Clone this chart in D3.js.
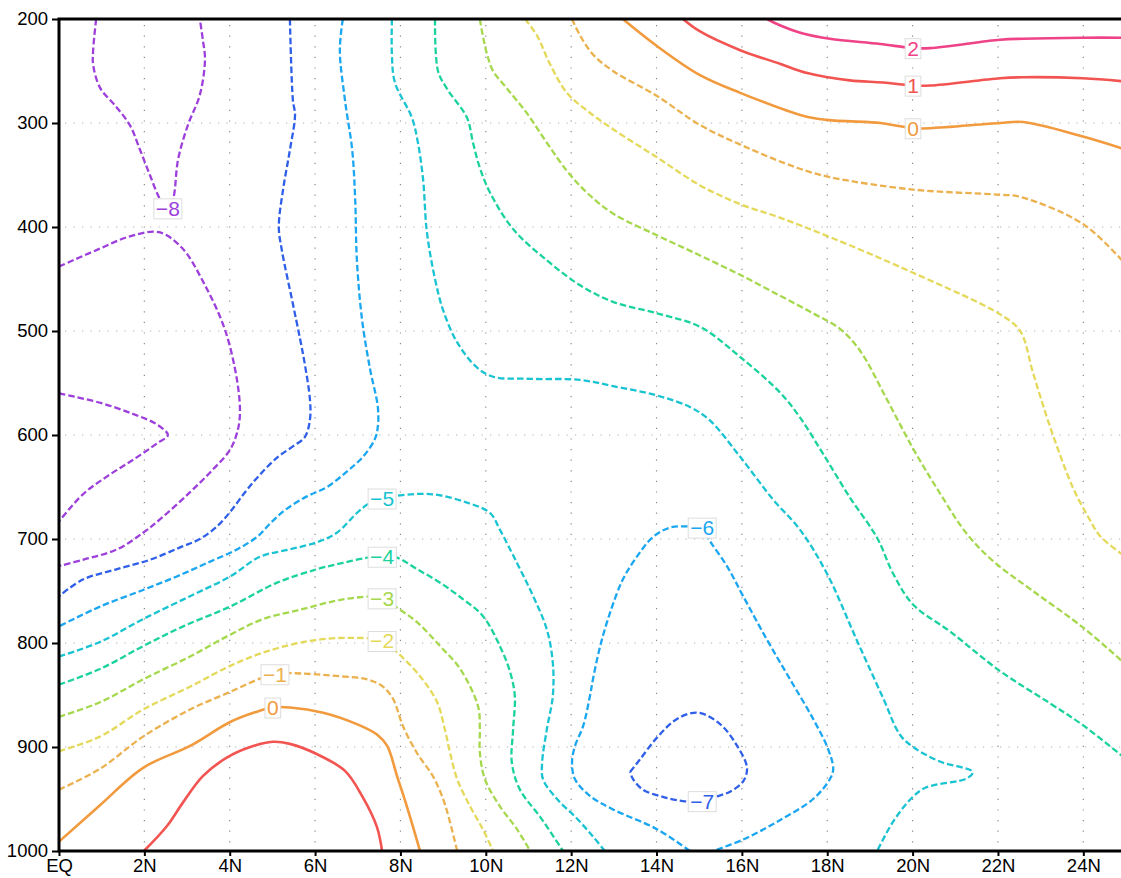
<!DOCTYPE html>
<html>
<head>
<meta charset="utf-8">
<title>Contour cross section</title>
<script src="https://d3js.org/d3.v7.min.js"></script>
<style>
  body { margin: 0; background: #fff; }
  text { font-family: "Liberation Sans", "DejaVu Sans", sans-serif; }
</style>
</head>
<body>
<div id="chart"></div>
<script>
// axis ticks
const latTicks = [0, 2, 4, 6, 8, 10, 12, 14, 16, 18, 20, 22, 24];
const presTicks = [200, 300, 400, 500, 600, 700, 800, 900, 1000];

// contour lines: [latitude, pressure]
const m8a = [[0.87,200],[0.80,230],[0.80,244],[0.96,266],[1.31,283],[1.66,302],[1.90,326],[2.13,350],[2.35,372],[2.55,384],[2.68,372],[2.79,335],[3.02,302],[3.30,273],[3.42,239],[3.37,220],[3.30,200]];
const m8b = [[0,438],[0.89,422],[1.66,409],[2.34,405],[2.88,420],[3.42,456],[3.89,499],[4.17,547],[4.24,578],[4.19,595],[4.01,614],[3.61,633],[3.07,655],[2.37,681],[1.97,694],[1.36,710],[0.56,720],[0,726]];
const m8c = [[0,560],[0.96,569],[1.75,580],[2.30,590],[2.55,600],[2.30,608],[1.73,624],[1.12,640],[0.56,657],[0,683]];
const m7a = [[5.41,200],[5.48,278],[5.53,292],[5.41,326],[5.25,364],[5.15,400],[5.22,422],[5.46,470],[5.65,508],[5.76,532],[5.88,566],[5.88,585],[5.76,602],[5.48,611],[5.13,621],[4.71,638],[4.36,655],[4.01,674],[3.70,688],[3.30,700],[2.84,708],[2.13,720],[1.36,729],[0.56,739],[0,755]];
const m7b = [[13.38,924],[13.61,912],[14.01,891],[14.48,873],[14.97,867],[15.49,878],[15.89,899],[16.12,920],[16.03,933],[15.72,943],[15.37,948],[15.07,952],[14.62,952],[14.15,948],[13.68,941],[13.45,931],[13.38,924]];
const m6a = [[6.65,200],[6.58,230],[6.70,278],[6.87,326],[6.94,374],[6.98,432],[7.10,489],[7.29,537],[7.47,573],[7.47,592],[7.40,604],[7.12,621],[6.75,635],[6.28,650],[5.81,659],[5.30,672],[4.95,685],[4.64,698],[4.17,710],[3.47,723],[2.76,736],[1.97,749],[0.96,765],[0,784]];
const m6b = [[14.78,1000],[14.01,979],[12.98,960],[12.44,947],[12.09,931],[12.02,915],[12.09,899],[12.28,880],[12.44,851],[12.51,835],[12.68,803],[12.91,771],[13.21,739],[13.54,717],[13.92,698],[14.32,689],[14.78,688],[15.07,689],[15.25,702],[15.65,726],[16.03,755],[16.59,797],[17.13,835],[17.67,873],[18.02,902],[18.14,921],[18.06,931],[17.67,950],[16.82,972],[16.03,989],[15.32,1000]];
const m5a = [[0,813],[0.96,799],[1.97,777],[3.07,755],[4.01,736],[4.71,717],[5.41,710],[6.05,703],[6.51,694],[6.98,675],[7.29,665],[7.57,661],[7.99,658],[8.76,657],[9.56,665],[10.10,675],[10.33,691],[10.73,723],[11.11,755],[11.43,787],[11.57,819],[11.57,851],[11.43,883],[11.32,915],[11.34,931],[11.67,950],[12.14,969],[12.51,986],[12.79,1000]];
const m5b = [[7.80,200],[7.80,234],[7.87,261],[8.27,295],[8.41,319],[8.53,354],[8.62,405],[8.81,450],[9.00,480],[9.33,511],[9.79,535],[10.17,544],[11.04,546],[12.21,547],[12.98,553],[14.01,562],[14.78,573],[15.25,586],[15.96,621],[16.73,662],[17.36,691],[17.99,733],[18.70,798],[19.31,853],[19.70,888],[20.01,900],[20.64,914],[21.41,924],[21.28,930],[20.31,939],[19.98,949],[19.54,972],[19.17,1000]];
const m4a = [[0,840],[0.96,825],[1.97,803],[2.91,784],[4.01,765],[5.11,742],[6.05,729],[6.65,723],[7.22,718],[7.57,717],[7.92,718],[8.39,729],[8.93,742],[9.47,758],[9.93,774],[10.33,803],[10.57,828],[10.68,851],[10.64,883],[10.61,915],[10.80,941],[11.27,967],[11.81,1000]];
const m4b = [[8.81,200],[8.88,250],[9.09,267],[9.56,295],[9.70,319],[9.86,343],[10.10,367],[10.64,402],[11.43,432],[12.21,456],[12.98,472],[14.01,483],[15.02,496],[15.96,525],[16.89,559],[17.36,583],[17.90,618],[18.53,660],[19.17,699],[19.54,733],[20.01,763],[20.88,789],[22.05,827],[23.22,858],[23.99,879],[24.95,910]];
const m3a = [[0,871],[0.96,857],[1.97,835],[3.07,813],[4.01,792],[4.78,777],[5.65,768],[6.42,760],[7.05,756],[7.57,756],[7.92,766],[8.39,780],[8.93,803],[9.40,825],[9.82,861],[9.86,883],[9.86,905],[9.98,931],[10.33,957],[10.73,979],[11.04,1000]];
const m3b = [[9.86,200],[9.93,216],[10.03,234],[10.17,250],[10.50,267],[10.97,291],[11.43,319],[11.90,346],[12.37,367],[12.98,387],[14.01,408],[14.95,426],[15.96,446],[16.89,466],[17.67,483],[18.30,498],[18.77,519],[19.40,566],[20.01,613],[20.64,656],[21.27,695],[21.88,721],[22.82,750],[23.99,785],[24.95,819]];
const m2a = [[0,904],[0.96,890],[1.97,864],[3.07,842],[4.01,822],[4.87,808],[5.88,798],[6.82,795],[7.57,798],[7.92,809],[8.46,832],[8.86,857],[9.04,883],[9.16,905],[9.33,931],[9.63,957],[9.93,979],[10.17,1000]];
const m2b = [[10.92,200],[11.20,216],[11.50,243],[11.90,271],[12.37,288],[12.98,306],[14.01,333],[15.02,360],[15.96,378],[16.89,391],[18.14,411],[20.01,444],[22.05,484],[22.52,500],[22.82,540],[23.22,592],[23.76,651],[24.09,677],[24.39,697],[24.95,716]];
const m1a = [[0,941],[0.96,921],[1.97,890],[3.07,864],[4.01,847],[4.78,833],[5.06,830],[5.41,829],[6.58,832],[7.22,835],[7.59,842],[7.83,854],[8.06,880],[8.39,906],[8.76,928],[9.00,950],[9.16,972],[9.33,1000]];
const m1b = [[12.02,200],[12.21,216],[12.51,234],[12.98,250],[14.01,274],[15.02,302],[16.03,322],[17.29,343],[18.06,352],[20.01,364],[22.05,369],[22.52,371],[23.99,397],[24.95,434]];
const z0a = [[0,991],[0.96,956],[1.97,920],[3.07,899],[4.01,876],[4.64,866],[5.01,862],[5.41,862],[6.19,867],[6.98,878],[7.45,888],[7.69,899],[7.92,928],[8.15,957],[8.46,1000]];
const z0b = [[13.21,200],[14.01,226],[15.02,254],[15.96,271],[17.43,293],[17.99,297],[19.24,300],[19.54,302],[20.01,305],[20.41,305],[22.05,300],[22.59,299],[23.99,313],[24.95,325]];
const p1a = [[1.99,1000],[2.53,976],[2.91,953],[3.37,928],[3.94,910],[4.48,900],[5.01,895],[5.41,897],[6.05,907],[6.70,923],[7.10,947],[7.45,977],[7.57,1000]];
const p1b = [[14.62,200],[15.02,212],[15.96,230],[16.89,243],[17.53,252],[18.53,259],[19.31,261],[20.01,264],[20.41,264],[22.05,257],[22.59,256],[23.99,257],[24.95,260]];
const p2a = [[16.59,200],[16.89,206],[17.43,214],[18.06,219],[19.24,224],[20.01,228],[20.41,228],[22.05,220],[22.59,219],[23.99,218],[24.95,218]];

// contour level of each line
const lines = [
  [-8, m8a], [-8, m8b], [-8, m8c],
  [-7, m7a], [-7, m7b],
  [-6, m6a], [-6, m6b],
  [-5, m5a], [-5, m5b],
  [-4, m4a], [-4, m4b],
  [-3, m3a], [-3, m3b],
  [-2, m2a], [-2, m2b],
  [-1, m1a], [-1, m1b],
  [0, z0a], [0, z0b],
  [1, p1a], [1, p1b],
  [2, p2a]
];

// contour labels: [level, latitude, pressure]
const labels = [
  [-8, 2.55, 382], [2, 20.01, 228], [1, 20.01, 264], [0, 20.01, 305],
  [-5, 7.57, 661], [-4, 7.57, 717], [-3, 7.57, 757], [-2, 7.57, 798],
  [-1, 5.06, 830], [0, 5.01, 862], [-6, 15.07, 689], [-7, 15.07, 952]
];

const levelColor = {
  "-8": "#9d3fdb", "-7": "#2f5fe8", "-6": "#1aa6f0", "-5": "#19c3d1",
  "-4": "#1ad29d", "-3": "#a5d84c", "-2": "#e4d95a", "-1": "#ebb14f",
  "0": "#f29a3e", "1": "#f25451", "2": "#ef4387"
};

let width = 1121, height = 878;

let svg = d3.select("#chart").append("svg")
    .attr("width", width)
    .attr("height", height);

let x = d3.scaleLinear().domain([0, 25]).range([59, 1126]);
let y = d3.scaleLinear().domain([200, 1000]).range([19, 851]);

svg.append("defs").append("clipPath").attr("id", "plot")
  .append("rect")
    .attr("x", x(0)).attr("y", y(200))
    .attr("width", x(25) - x(0)).attr("height", y(1000) - y(200));

// dotted grid
svg.append("g").selectAll("line")
  .data(latTicks.filter(d => d > 0))
  .enter().append("line")
    .attr("x1", d => x(d)).attr("x2", d => x(d))
    .attr("y1", y(200) + 6).attr("y2", y(1000))
    .attr("stroke", "#8a8a8a")
    .attr("stroke-width", 1.2)
    .attr("stroke-dasharray", "1.2,9.4");

svg.append("g").selectAll("line")
  .data(presTicks.filter(d => d > 200 && d < 1000))
  .enter().append("line")
    .attr("x1", x(0) + 6).attr("x2", width)
    .attr("y1", d => y(d)).attr("y2", d => y(d))
    .attr("stroke", "#b0b0b0")
    .attr("stroke-width", 1.2)
    .attr("stroke-dasharray", "1.2,7.3");

// contours
let lineGen = d3.line()
    .x(d => x(d[0]))
    .y(d => y(d[1]))
    .curve(d3.curveCatmullRom.alpha(0.5));

svg.append("g").attr("clip-path", "url(#plot)")
  .selectAll("path")
  .data(lines)
  .enter().append("path")
    .attr("d", d => lineGen(d[1]))
    .attr("fill", "none")
    .attr("stroke", d => levelColor[d[0]])
    .attr("stroke-width", d => d[0] < 0 ? 2.3 : 2.6)
    .attr("stroke-dasharray", d => d[0] < 0 ? "6.5,3" : null);

// contour labels with white boxes
let lab = svg.append("g").selectAll("g")
  .data(labels)
  .enter().append("g")
    .attr("transform", d => `translate(${x(d[1])},${y(d[2])})`);

lab.append("text")
    .attr("text-anchor", "middle")
    .attr("dy", "0.36em")
    .attr("font-size", 21)
    .attr("fill", d => levelColor[d[0]])
    .text(d => d[0] < 0 ? "\u2212" + Math.abs(d[0]) : String(d[0]))
    .each(function() {
      let b = this.getBBox();
      d3.select(this.parentNode).insert("rect", "text")
        .attr("x", b.x - 2).attr("y", b.y + 2)
        .attr("width", b.width + 4).attr("height", b.height - 3)
        .attr("fill", "#fff")
        .attr("stroke", "#dddddd")
        .attr("stroke-width", 1);
    });

// axes
let yAxis = svg.append("g")
    .attr("transform", `translate(${x(0)},0)`)
    .call(d3.axisLeft(y).tickValues(presTicks).tickSize(7).tickPadding(4)
      .tickFormat(d3.format("d")));

let xAxis = svg.append("g")
    .attr("transform", `translate(0,${y(1000)})`)
    .call(d3.axisBottom(x).tickValues(latTicks).tickSize(5).tickPadding(3)
      .tickFormat(d => d === 0 ? "EQ" : d + "N"));

[yAxis, xAxis].forEach(a => {
  a.select(".domain").remove();
  a.selectAll(".tick line").attr("stroke", "#000").attr("stroke-width", 2);
  a.selectAll("text")
    .attr("fill", "#000")
    .attr("font-size", 18.5)
    .style("font-family", "'Liberation Sans', 'DejaVu Sans', sans-serif");
});

// frame
svg.append("path")
    .attr("d", `M${width},${y(200)}H${x(0)}V${y(1000)}H${width}`)
    .attr("fill", "none")
    .attr("stroke", "#000")
    .attr("stroke-width", 3);
</script>
</body>
</html>
